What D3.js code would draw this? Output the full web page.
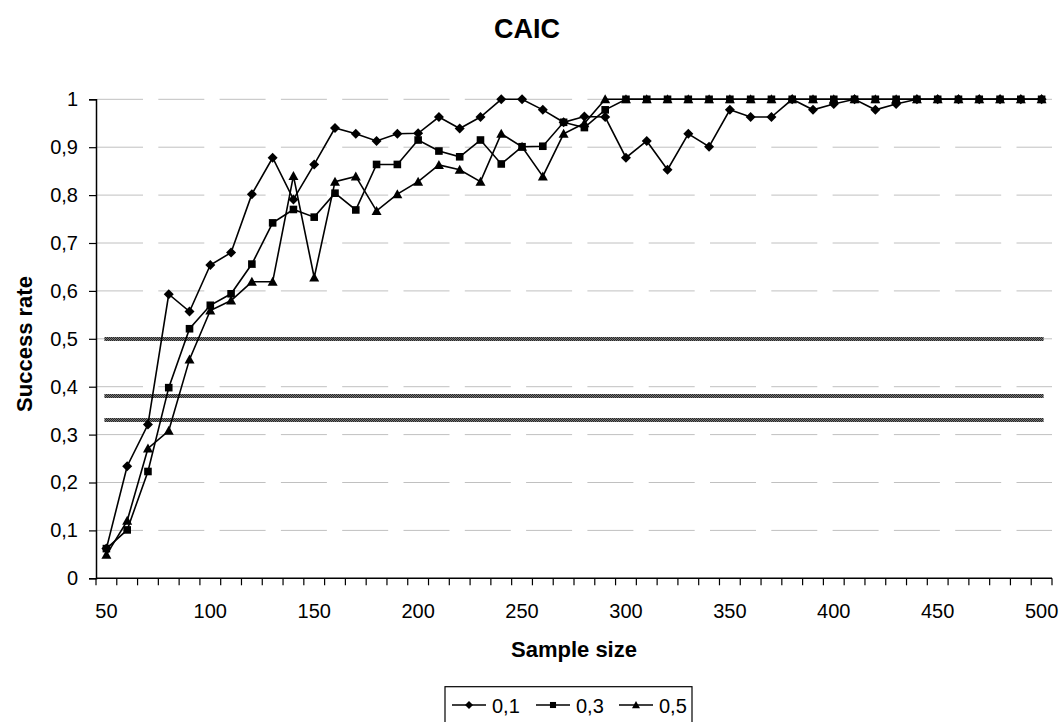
<!DOCTYPE html>
<html>
<head>
<meta charset="utf-8">
<script src="https://cdn.jsdelivr.net/npm/d3@7"></script>
<style>
  html, body { margin: 0; padding: 0; background: #fff; }
  svg { display: block; }
  text { font-family: Arial, "Liberation Sans", sans-serif; fill: #000; }
</style>
</head>
<body>
<svg id="chart" width="1064" height="722"></svg>
<script>
// ---- data ----
const sampleSizes = [50,60,70,80,90,100,110,120,130,140,150,160,170,180,190,200,210,220,230,240,250,260,270,280,290,300,310,320,330,340,350,360,370,380,390,400,410,420,430,440,450,460,470,480,490,500];
const seriesNames = ["0,1", "0,3", "0,5"];
const rate01 = [0.062,0.234,0.321,0.593,0.557,0.654,0.680,0.802,0.878,0.791,
                0.864,0.940,0.928,0.913,0.928,0.929,0.963,0.939,0.963,1.000,
                1.000,0.978,0.952,0.964,0.963,0.878,0.913,0.853,0.928,0.901,
                0.978,0.963,0.963,1.000,0.978,0.990,1.000,0.978,0.990,1.000,
                1.000,1.000,1.000,1.000,1.000,1.000];
const rate03 = [0.062,0.101,0.223,0.398,0.521,0.570,0.594,0.656,0.742,0.770,
                0.754,0.804,0.769,0.864,0.864,0.915,0.892,0.880,0.915,0.865,
                0.901,0.902,0.952,0.941,0.978,1.000,1.000,1.000,1.000,1.000,
                1.000,1.000,1.000,1.000,1.000,1.000,1.000,1.000,1.000,1.000,
                1.000,1.000,1.000,1.000,1.000,1.000];
const rate05 = [0.049,0.120,0.271,0.308,0.457,0.559,0.580,0.619,0.619,0.840,
                0.628,0.828,0.839,0.767,0.802,0.828,0.863,0.853,0.828,0.928,
                0.901,0.839,0.928,0.950,1.000,1.000,1.000,1.000,1.000,1.000,
                1.000,1.000,1.000,1.000,1.000,1.000,1.000,1.000,1.000,1.000,
                1.000,1.000,1.000,1.000,1.000,1.000];
const referenceLines = [0.5, 0.38, 0.33];
const yTicks = [0,0.1,0.2,0.3,0.4,0.5,0.6,0.7,0.8,0.9,1];
const xLabelSizes = [50,100,150,200,250,300,350,400,450,500];

(function () {
// ---- layout ----
const svg = d3.select("#chart");
const pLeft = 96, pRight = 1052, pTop = 99.3, pBottom = 578.3;

const x = d3.scaleBand().domain(sampleSizes).range([pLeft, pRight]).padding(0);
const cx = d => x(d) + x.bandwidth() / 2;
const y = d3.scaleLinear().domain([0, 1]).range([pBottom, pTop]);

// stippled pattern for the reference lines
const pat = svg.append("defs").append("pattern")
  .attr("id", "stipple").attr("patternUnits", "userSpaceOnUse")
  .attr("width", 2).attr("height", 2);
pat.append("rect").attr("width", 2).attr("height", 2).attr("fill", "#7a7a7a");
pat.append("rect").attr("x", 0).attr("y", 0).attr("width", 1).attr("height", 1).attr("fill", "#262626");
pat.append("rect").attr("x", 1).attr("y", 1).attr("width", 1).attr("height", 1).attr("fill", "#262626");

// gridlines
svg.append("g").selectAll("line")
  .data(yTicks.filter(v => v > 0))
  .join("line")
  .attr("x1", pLeft + 1).attr("x2", pRight)
  .attr("y1", d => y(d)).attr("y2", d => y(d))
  .attr("stroke", "#c0c0c0").attr("stroke-width", 1)
  .attr("stroke-dasharray", "46,15.3");

// reference lines
const refX0 = cx(sampleSizes[0]) - 2, refX1 = cx(sampleSizes[sampleSizes.length - 1]) + 2;
svg.append("g").selectAll("rect")
  .data(referenceLines)
  .join("rect")
  .attr("x", refX0).attr("width", refX1 - refX0)
  .attr("y", d => Math.round(y(d)) - 2).attr("height", 4)
  .attr("fill", "url(#stipple)");

// y axis
const fmt = v => d3.format(".1~f")(v).replace(".", ",");
const yAxis = svg.append("g")
  .attr("transform", `translate(${pLeft},0)`)
  .call(d3.axisLeft(y).tickValues(yTicks).tickSize(7).tickPadding(11).tickFormat(fmt));
yAxis.attr("font-family", null);
yAxis.select(".domain").attr("stroke", "#000").attr("stroke-width", 1.5);
yAxis.selectAll(".tick line").attr("stroke", "#000").attr("stroke-width", 1.2);
yAxis.selectAll("text").style("font-size", "20px");

// x axis
const xg = svg.append("g").attr("transform", `translate(0,${pBottom})`);
xg.append("line").attr("x1", pLeft).attr("x2", pRight).attr("stroke", "#000").attr("stroke-width", 1.5);
const edges = sampleSizes.map(d => x(d)).concat([x(sampleSizes[sampleSizes.length - 1]) + x.bandwidth()]);
xg.selectAll("line.tk").data(edges).join("line").attr("class", "tk")
  .attr("x1", d => d).attr("x2", d => d).attr("y1", 0).attr("y2", 7)
  .attr("stroke", "#000").attr("stroke-width", 1.2);
xg.selectAll("text").data(xLabelSizes).join("text")
  .attr("x", d => cx(d)).attr("y", 40)
  .attr("text-anchor", "middle").style("font-size", "20px")
  .text(d => d);

// series
const allSeries = [rate01, rate03, rate05];
const markerPaths = [
  "M0,-5L5,0L0,5L-5,0Z",
  "M-3.8,-3.8H3.8V3.8H-3.8Z",
  "M0,-5L5,4L-5,4Z"
];
const line = d3.line().x((d, i) => cx(sampleSizes[i])).y(d => y(d));
allSeries.forEach((s, k) => {
  const g = svg.append("g");
  g.append("path").datum(s).attr("d", line)
    .attr("fill", "none").attr("stroke", "#000").attr("stroke-width", 1.6);
  g.selectAll("path.m").data(s).join("path").attr("class", "m")
    .attr("d", markerPaths[k])
    .attr("transform", (d, i) => `translate(${cx(sampleSizes[i])},${y(d)})`)
    .attr("fill", "#000");
});

// titles
svg.append("text").attr("x", 527).attr("y", 38).attr("text-anchor", "middle")
  .style("font-size", "27px").style("font-weight", "bold").text("CAIC");
svg.append("text").attr("x", (pLeft + pRight) / 2).attr("y", 657).attr("text-anchor", "middle")
  .style("font-size", "22px").style("font-weight", "bold").text("Sample size");
svg.append("text").attr("transform", `translate(32,344) rotate(-90)`).attr("text-anchor", "middle")
  .style("font-size", "22px").style("font-weight", "bold").text("Success rate");

// legend
const lg = svg.append("g");
lg.append("rect").attr("x", 445).attr("y", 686.7).attr("width", 247).attr("height", 36)
  .attr("fill", "#fff").attr("stroke", "#000").attr("stroke-width", 1.2);
const legX = [452, 536, 619];
seriesNames.forEach((n, k) => {
  const lx = legX[k], ly = 705;
  lg.append("line").attr("x1", lx).attr("x2", lx + 34).attr("y1", ly).attr("y2", ly)
    .attr("stroke", "#000").attr("stroke-width", 1.6);
  lg.append("path").attr("d", markerPaths[k])
    .attr("transform", `translate(${lx + 17},${ly}) scale(0.8)`).attr("fill", "#000");
  lg.append("text").attr("x", lx + 40).attr("y", 713).style("font-size", "20px").text(n);
});
})();
</script>
</body>
</html>
